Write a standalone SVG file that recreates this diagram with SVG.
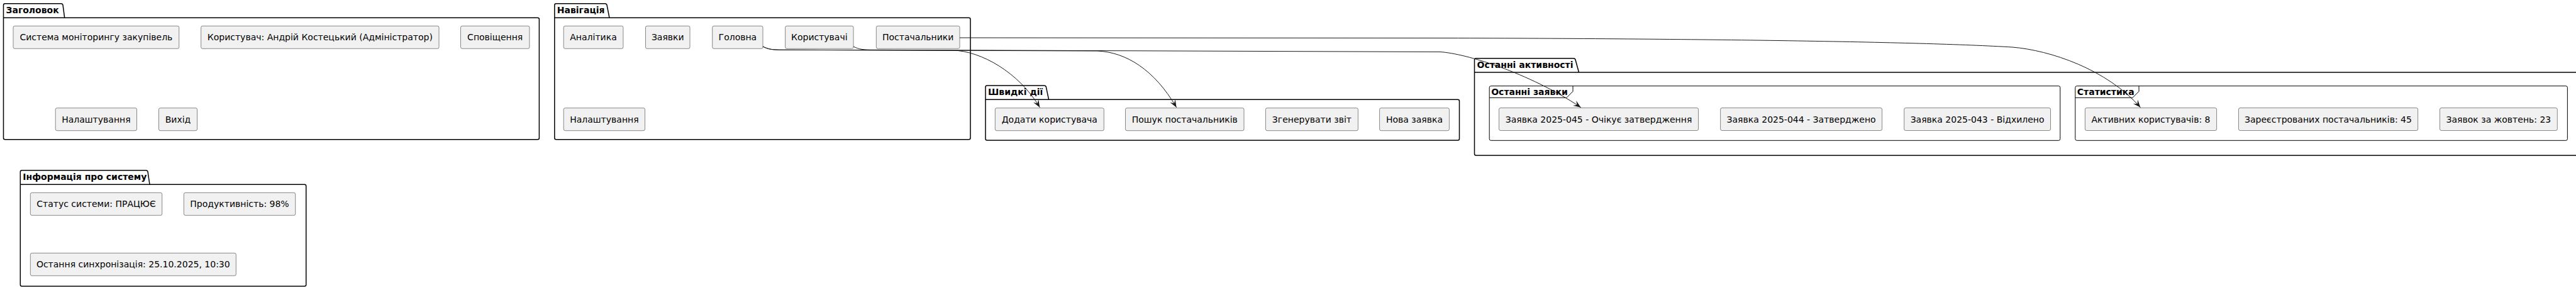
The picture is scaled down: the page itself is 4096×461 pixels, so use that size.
<svg xmlns="http://www.w3.org/2000/svg" width="4096" height="461" viewBox="0 0 4096 461">
<style>
.pkg{fill:none;stroke:#000;stroke-width:1.5}
.frm{fill:none;stroke:#000;stroke-width:1}
.node rect{fill:#F1F1F1;stroke:#181818;stroke-width:0.5}
.node text{font-family:"DejaVu Sans",sans-serif;font-size:14px;fill:#000;text-anchor:middle}
.ttl{font-family:"DejaVu Sans",sans-serif;font-size:14px;font-weight:bold;fill:#000}
.edge{fill:none;stroke:#181818;stroke-width:1;marker-end:url(#arr)}
</style>
<defs>
<marker id="arr" markerUnits="userSpaceOnUse" markerWidth="12" markerHeight="12" viewBox="0 0 10 10" refX="10" refY="5" orient="auto">
<path d="M0,1 L10,5 L0,9 L4,5 Z" fill="#181818"/>
</marker>
</defs>
<rect width="4096" height="461" fill="#fff"/>

<!-- Packages -->
<g id="pkg-header">
<path class="pkg" d="M5.5,8.2 Q5.5,5.7 8,5.7 L97.1,5.7 Q99.5,5.7 100,8 L102.7,28.3 L854.9,28.3 Q857.4,28.3 857.4,30.8 L857.4,219.2 Q857.4,221.7 854.9,221.7 L8,221.7 Q5.5,221.7 5.5,219.2 Z M5.5,28.3 L102.7,28.3"/>
<text class="ttl" x="9.5" y="20.7">Заголовок</text>
</g>
<g id="pkg-nav">
<path class="pkg" d="M881.8,8.2 Q881.8,5.7 884.3,5.7 L962,5.7 Q964.4,5.7 965,8 L969,28.3 L1540.5,28.3 Q1543,28.3 1543,30.8 L1543,219.2 Q1543,221.7 1540.5,221.7 L884.3,221.7 Q881.8,221.7 881.8,219.2 Z M881.8,28.3 L969,28.3"/>
<text class="ttl" x="885.8" y="20.7">Навігація</text>
</g>
<g id="pkg-quick">
<path class="pkg" d="M1567,138.5 Q1567,136 1569.5,136 L1660.4,136 Q1662.8,136 1663.4,138.3 L1667.6,158.3 L2318,158.3 Q2320.5,158.3 2320.5,160.8 L2320.5,220.5 Q2320.5,223 2318,223 L1569.5,223 Q1567,223 1567,220.5 Z M1567,158.3 L1667.6,158.3"/>
<text class="ttl" x="1571" y="151">Швидкі дії</text>
</g>
<g id="pkg-recent">
<path class="pkg" d="M2344.5,95.2 Q2344.5,92.7 2347,92.7 L2502,92.7 Q2504.4,92.7 2505,95 L2510.5,115 L4120,115 L4120,247 L2347,247 Q2344.5,247 2344.5,244.5 Z M2344.5,115 L2510.5,115"/>
<text class="ttl" x="2348.5" y="107.5">Останні активності</text>
</g>
<g id="frm-requests">
<rect class="frm" x="2368.2" y="136.7" width="907.6" height="86.6" rx="2.5"/>
<path class="frm" d="M2368.2,155.3 L2491,155.3 L2501,145.3 L2501,136.7"/>
<text class="ttl" x="2371.2" y="150.7">Останні заявки</text>
</g>
<g id="frm-stats">
<rect class="frm" x="3299.8" y="136.7" width="782.6" height="86.6" rx="2.5"/>
<path class="frm" d="M3299.8,155.3 L3391,155.3 L3401,145.3 L3401,136.7"/>
<text class="ttl" x="3302.8" y="150.7">Статистика</text>
</g>
<g id="pkg-info">
<path class="pkg" d="M32.3,273.2 Q32.3,270.7 34.8,270.7 L232,270.7 Q234.4,270.7 235,273 L238,293.3 L484.2,293.3 Q486.7,293.3 486.7,295.8 L486.7,452.5 Q486.7,455 484.2,455 L34.8,455 Q32.3,455 32.3,452.5 Z M32.3,293.3 L238,293.3"/>
<text class="ttl" x="36.3" y="285.7">Інформація про систему</text>
</g>

<!-- Nodes: Заголовок -->
<g id="n-system" class="node"><rect x="21" y="41.3" width="263.7" height="36" rx="2.5"/><text x="152.9" y="64.4">Система моніторингу закупівель</text></g>
<g id="n-user" class="node"><rect x="319.6" y="41.3" width="378.4" height="36" rx="2.5"/><text x="508.8" y="64.4">Користувач: Андрій Костецький (Адміністратор)</text></g>
<g id="n-notif" class="node"><rect x="732.5" y="41.3" width="109.4" height="36" rx="2.5"/><text x="787.2" y="64.4">Сповіщення</text></g>
<g id="n-hsettings" class="node"><rect x="88.2" y="171.7" width="129.3" height="36" rx="2.5"/><text x="152.9" y="194.8">Налаштування</text></g>
<g id="n-exit" class="node"><rect x="252.5" y="171.7" width="61" height="36" rx="2.5"/><text x="283" y="194.8">Вихід</text></g>

<!-- Nodes: Навігація -->
<g id="n-analytics" class="node"><rect x="896.2" y="41.3" width="94.7" height="36" rx="2.5"/><text x="943.5" y="64.4">Аналітика</text></g>
<g id="n-requests" class="node"><rect x="1026.5" y="41.3" width="70.5" height="36" rx="2.5"/><text x="1061.8" y="64.4">Заявки</text></g>
<g id="n-home" class="node"><rect x="1132.7" y="41.3" width="80.3" height="36" rx="2.5"/><text x="1172.9" y="64.4">Головна</text></g>
<g id="n-users" class="node"><rect x="1248.6" y="41.3" width="108.4" height="36" rx="2.5"/><text x="1302.8" y="64.4">Користувачі</text></g>
<g id="n-suppliers" class="node"><rect x="1393.3" y="41.3" width="132.7" height="36" rx="2.5"/><text x="1459.7" y="64.4">Постачальники</text></g>
<g id="n-nsettings" class="node"><rect x="896.2" y="171.7" width="129.3" height="36" rx="2.5"/><text x="960.9" y="194.8">Налаштування</text></g>

<!-- Nodes: Швидкі дії -->
<g id="n-adduser" class="node"><rect x="1582.3" y="171.7" width="173" height="36" rx="2.5"/><text x="1668.8" y="194.8">Додати користувача</text></g>
<g id="n-search" class="node"><rect x="1789.5" y="171.7" width="188.5" height="36" rx="2.5"/><text x="1883.8" y="194.8">Пошук постачальників</text></g>
<g id="n-report" class="node"><rect x="2012.4" y="171.7" width="147" height="36" rx="2.5"/><text x="2085.9" y="194.8">Згенерувати звіт</text></g>
<g id="n-newreq" class="node"><rect x="2193.6" y="171.7" width="110.8" height="36" rx="2.5"/><text x="2249" y="194.8">Нова заявка</text></g>

<!-- Nodes: Останні заявки -->
<g id="n-r045" class="node"><rect x="2383.5" y="171.5" width="317" height="36" rx="2.5"/><text x="2542" y="194.6">Заявка 2025-045 - Очікує затвердження</text></g>
<g id="n-r044" class="node"><rect x="2735.6" y="171.5" width="257" height="36" rx="2.5"/><text x="2864.1" y="194.6">Заявка 2025-044 - Затверджено</text></g>
<g id="n-r043" class="node"><rect x="3027.7" y="171.5" width="232.8" height="36" rx="2.5"/><text x="3144.1" y="194.6">Заявка 2025-043 - Відхилено</text></g>

<!-- Nodes: Статистика -->
<g id="n-activeusers" class="node"><rect x="3315.4" y="171.5" width="209.2" height="36" rx="2.5"/><text x="3420" y="194.6">Активних користувачів: 8</text></g>
<g id="n-regsuppliers" class="node"><rect x="3559.5" y="171.5" width="285.1" height="36" rx="2.5"/><text x="3702" y="194.6">Зареєстрованих постачальників: 45</text></g>
<g id="n-octreq" class="node"><rect x="3879.5" y="171.5" width="186.8" height="36" rx="2.5"/><text x="3972.9" y="194.6">Заявок за жовтень: 23</text></g>

<!-- Nodes: Інформація про систему -->
<g id="n-status" class="node"><rect x="48.3" y="306.3" width="209.4" height="36" rx="2.5"/><text x="153" y="329.4">Статус системи: ПРАЦЮЄ</text></g>
<g id="n-perf" class="node"><rect x="292.3" y="306.3" width="177.4" height="36" rx="2.5"/><text x="381" y="329.4">Продуктивність: 98%</text></g>
<g id="n-sync" class="node"><rect x="48.3" y="402.3" width="327" height="36" rx="2.5"/><text x="211.8" y="425.4">Остання синхронізація: 25.10.2025, 10:30</text></g>

<!-- Connectors -->
<g id="connectors">
<path class="edge" d="M1213,74 C1222,78.5 1228,79.3 1245,79.3 L1515,80 C1560,81 1620,115 1653.3,170.7"/>
<path class="edge" d="M1213,74 C1222,78.5 1228,79.3 1245,79.3 L1745,81 C1790,83 1835,110 1870.6,170.7"/>
<path class="edge" d="M1357,74 C1366,78.5 1372,79.3 1390,79.3 L2290,82.5 C2330,85 2430,115 2513.6,170.7"/>
<path class="edge" d="M1526,60 L2300,60.5 C2700,61.5 3050,66 3200,75 C3260,80 3350,110 3403.4,170.7"/>
</g>
</svg>
